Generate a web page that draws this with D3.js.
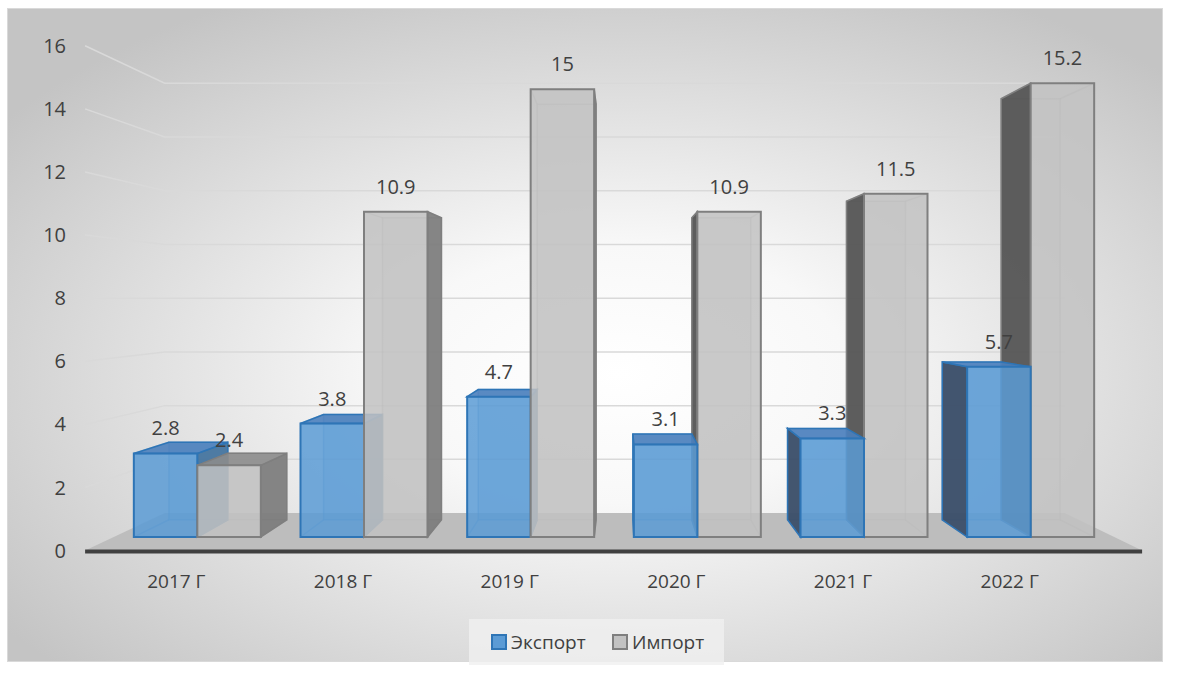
<!DOCTYPE html>
<html>
<head>
<meta charset="utf-8">
<script src="https://cdn.jsdelivr.net/npm/d3@7"></script>
<style>
  body { margin: 0; background: #fff; }
  svg text { font-family: "Open Sans", sans-serif; fill: #404040; }
</style>
</head>
<body>
<div id="graph"></div>
<script>
var years = ['2017 Г', '2018 Г', '2019 Г', '2020 Г', '2021 Г', '2022 Г']
var exportVals = [2.8, 3.8, 4.7, 3.1, 3.3, 5.7]
var importVals = [2.4, 10.9, 15, 10.9, 11.5, 15.2]
var yTicks = [0, 2, 4, 6, 8, 10, 12, 14, 16]
var seriesNames = ['Экспорт', 'Импорт']

var width = 1178, height = 675

// perspective: vanishing point and depth factors (bar front plane = 1)
var vp = [621, 298]
var kFront = 1.057, kBack = 0.928, kWall = 0.9

var proj = (p, k) => [vp[0] + (p[0] - vp[0])*k, vp[1] + (p[1] - vp[1])*k]
var pts = arr => arr.map(d => d.join(',')).join(' ')

var x = d3.scaleBand().domain(years).range([114, 1114])
var y = d3.scaleLinear().domain([0, 16]).range([537, 59.4])
var barW = x.bandwidth()*0.381

var styles = [
  {front: '#5b9bd5', stroke: '#2e75b6', top: '#4b80bd', right: '#41719c', left: '#3b4e68'},
  {front: '#c2c2c2', stroke: '#7f7f7f', top: '#8c8c8c', right: '#7a7a7a', left: '#555555'}
]

var svg = d3.select('#graph').append('svg').attr('width', width).attr('height', height)

var defs = svg.append('defs')
var bg = defs.append('radialGradient').attr('id', 'bg')
  .attr('cx', 0.53).attr('cy', 0.56).attr('r', 0.66)
bg.append('stop').attr('offset', '0%').attr('stop-color', '#ffffff')
bg.append('stop').attr('offset', '30%').attr('stop-color', '#f8f8f8')
bg.append('stop').attr('offset', '100%').attr('stop-color', '#c4c4c4')

svg.append('rect')
  .attr('x', 7.5).attr('y', 8.5).attr('width', 1155).attr('height', 653)
  .attr('fill', 'url(#bg)').attr('stroke', '#d9d9d9')

var x0 = x.range()[0], x1 = x.range()[1]

// gridlines: left side wall + back wall
svg.append('g').selectAll('polyline').data(yTicks.filter(d => d > 0)).join('polyline')
  .attr('points', d => pts([proj([x0, y(d)], kFront), proj([x0, y(d)], kWall), proj([x1, y(d)], kWall)]))
  .attr('fill', 'none').attr('stroke', '#d9d9d9').attr('stroke-width', 1.5)

// floor
svg.append('polygon')
  .attr('points', pts([proj([x0, y(0)], kFront), proj([x1, y(0)], kFront), proj([x1, y(0)], kWall), proj([x0, y(0)], kWall)]))
  .attr('fill', '#bdbdbd')
svg.append('line')
  .datum([proj([x0, y(0)], kFront), proj([x1, y(0)], kFront)])
  .attr('x1', d => d[0][0]).attr('y1', d => d[0][1] + 1)
  .attr('x2', d => d[1][0]).attr('y2', d => d[1][1] + 1)
  .attr('stroke', '#404040').attr('stroke-width', 4)

// y tick labels on front plane
svg.append('g').selectAll('text').data(yTicks).join('text')
  .attr('x', 66).attr('y', d => proj([x0, y(d)], kFront)[1])
  .attr('dy', '0.35em').attr('text-anchor', 'end').attr('font-size', 20)
  .text(d => d)

// x labels
svg.append('g').selectAll('text').data(years).join('text')
  .attr('x', d => x(d) + x.bandwidth()/2 - 21).attr('y', 581)
  .attr('dy', '0.35em').attr('text-anchor', 'middle').attr('font-size', 19)
  .text(d => d)

// bars
var bars = []
years.forEach((yr, i) => {
  var c = x(yr) + x.bandwidth()/2
  ;[exportVals[i], importVals[i]].forEach((v, s) => {
    var xl = c - barW + s*barW
    bars.push({yr, s, v, xl, xr: xl + barW})
  })
})
bars.sort((a, b) => Math.abs((b.xl + b.xr)/2 - vp[0]) - Math.abs((a.xl + a.xr)/2 - vp[0]))

var barG = svg.append('g')
bars.forEach(b => {
  var st = styles[b.s]
  var g = barG.append('g')
  var yb = y(0), yt = y(b.v)
  var F = [[b.xl, yb], [b.xr, yb], [b.xr, yt], [b.xl, yt]]
  var B = F.map(p => proj(p, kBack))

  // hidden edges seen through
  g.append('polygon').attr('points', pts(B))
    .attr('fill', st.front).attr('fill-opacity', 0.25)
    .attr('stroke', st.stroke).attr('stroke-opacity', 0.35).attr('stroke-width', 1.5)
  F.forEach((p, j) => {
    g.append('line')
      .attr('x1', p[0]).attr('y1', p[1]).attr('x2', B[j][0]).attr('y2', B[j][1])
      .attr('stroke', st.stroke).attr('stroke-opacity', 0.35).attr('stroke-width', 1.5)
  })

  // side face
  if (b.xr < vp[0]) {
    g.append('polygon').attr('points', pts([F[1], B[1], B[2], F[2]]))
      .attr('fill', st.right).attr('fill-opacity', 0.9)
      .attr('stroke', st.stroke).attr('stroke-width', 1.5)
  } else if (b.xl > vp[0]) {
    g.append('polygon').attr('points', pts([F[0], B[0], B[3], F[3]]))
      .attr('fill', st.left).attr('fill-opacity', 0.95)
      .attr('stroke', st.stroke).attr('stroke-width', 1.5)
  }
  // top face
  if (yt > vp[1]) {
    g.append('polygon').attr('points', pts([F[3], F[2], B[2], B[3]]))
      .attr('fill', st.top).attr('fill-opacity', 0.9)
      .attr('stroke', st.stroke).attr('stroke-width', 1.5)
  }
  // front face
  g.append('polygon').attr('points', pts(F))
    .attr('fill', st.front).attr('fill-opacity', 0.85)
    .attr('stroke', st.stroke).attr('stroke-width', 2)
})

// value labels
svg.append('g').selectAll('text').data(bars).join('text')
  .attr('x', d => (d.xl + d.xr)/2).attr('y', d => y(d.v) - 25)
  .attr('dy', '0.35em').attr('text-anchor', 'middle').attr('font-size', 20)
  .text(d => d.v)

// legend
var leg = svg.append('g')
leg.append('rect').attr('x', 469).attr('y', 619).attr('width', 255).attr('height', 46)
  .attr('fill', '#f0f0f0').attr('fill-opacity', 0.8)
var items = leg.selectAll('g').data(seriesNames).join('g')
  .attr('transform', (d, i) => `translate(${[492, 613][i]},635)`)
items.append('rect').attr('width', 14).attr('height', 14)
  .attr('fill', (d, i) => styles[i].front).attr('stroke', (d, i) => styles[i].stroke).attr('stroke-width', 2)
items.append('text').attr('x', 19).attr('y', 7).attr('dy', '0.35em').attr('font-size', 19)
  .text(d => d)
</script>
</body>
</html>
